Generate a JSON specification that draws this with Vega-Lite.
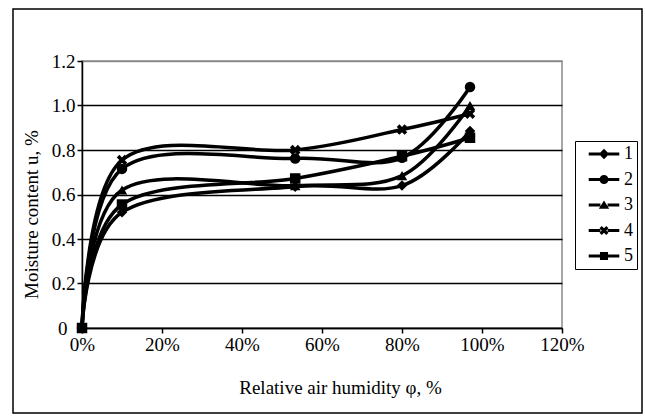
{
  "$schema": "https://vega.github.io/schema/vega-lite/v6.json",
  "autosize": "none",
  "width": 480,
  "height": 267,
  "padding": {"left": 82, "top": 61, "right": 83, "bottom": 88},
  "background": "white",
  "config": {
    "view": {"stroke": "#8a8a8a", "strokeWidth": 1.5},
    "font": "'Liberation Serif', 'Times New Roman', serif",
    "axis": {
      "labelFont": "'Liberation Serif', 'Times New Roman', serif",
      "titleFont": "'Liberation Serif', 'Times New Roman', serif",
      "labelFontSize": 19,
      "titleFontSize": 19,
      "titleFontWeight": "normal",
      "labelColor": "black",
      "titleColor": "black",
      "domainColor": "black",
      "domainWidth": 1.5,
      "tickColor": "black",
      "tickWidth": 1.5,
      "tickSize": 5,
      "labelFlush": false
    },
    "legend": {
      "labelFont": "'Liberation Serif', 'Times New Roman', serif",
      "labelFontSize": 18,
      "labelColor": "black"
    }
  },
  "data": {
    "values": [
      {"series": "1", "x": 0, "y": 0},
      {"series": "1", "x": 0.1, "y": 0.52},
      {"series": "1", "x": 0.533, "y": 0.635},
      {"series": "1", "x": 0.8, "y": 0.64},
      {"series": "1", "x": 0.97, "y": 0.885},
      {"series": "2", "x": 0, "y": 0},
      {"series": "2", "x": 0.1, "y": 0.715},
      {"series": "2", "x": 0.533, "y": 0.762},
      {"series": "2", "x": 0.8, "y": 0.765},
      {"series": "2", "x": 0.97, "y": 1.083},
      {"series": "3", "x": 0, "y": 0},
      {"series": "3", "x": 0.1, "y": 0.62},
      {"series": "3", "x": 0.533, "y": 0.64},
      {"series": "3", "x": 0.8, "y": 0.685},
      {"series": "3", "x": 0.97, "y": 1.0},
      {"series": "4", "x": 0, "y": 0},
      {"series": "4", "x": 0.1, "y": 0.755},
      {"series": "4", "x": 0.533, "y": 0.8},
      {"series": "4", "x": 0.8, "y": 0.892},
      {"series": "4", "x": 0.97, "y": 0.963},
      {"series": "5", "x": 0, "y": 0},
      {"series": "5", "x": 0.1, "y": 0.555},
      {"series": "5", "x": 0.533, "y": 0.672},
      {"series": "5", "x": 0.8, "y": 0.772},
      {"series": "5", "x": 0.97, "y": 0.855}
    ]
  },
  "layer": [
    {
      "data": {"values": [{"frame": "outer"}]},
      "mark": {"type": "rect", "fill": null, "stroke": "black", "strokeWidth": 1.5, "clip": false},
      "encoding": {
        "x": {"datum": -0.1725, "type": "quantitative", "scale": {"domain": [0, 1.2], "nice": false, "zero": false}},
        "x2": {"datum": 1.4},
        "y": {"datum": 1.434, "type": "quantitative", "scale": {"domain": [0, 1.2], "nice": false, "zero": false}},
        "y2": {"datum": -0.382}
      }
    },
    {
      "mark": {"type": "line", "interpolate": "cardinal", "color": "black", "strokeWidth": 3.5},
      "encoding": {
        "x": {
          "field": "x", "type": "quantitative",
          "scale": {"domain": [0, 1.2], "nice": false, "zero": false},
          "axis": {
            "values": [0, 0.2, 0.4, 0.6, 0.8, 1.0, 1.2],
            "format": ".0%",
            "grid": false,
            "labelPadding": 2,
            "title": "Relative air humidity φ, %",
            "titlePadding": 24,
            "titleX": 258
          }
        },
        "y": {
          "field": "y", "type": "quantitative",
          "scale": {"domain": [0, 1.2], "nice": false, "zero": false},
          "axis": {
            "values": [0, 0.2, 0.4, 0.6, 0.8, 1.0, 1.2],
            "labelExpr": "datum.value == 0 ? '0' : format(datum.value, '.1f')",
            "grid": true,
            "gridColor": {"condition": {"test": "datum.value > 1.1", "value": "#8a8a8a"}, "value": "black"},
            "gridWidth": 1.5,
            "labelPadding": {"condition": {"test": "datum.value < 0.1", "value": 10}, "value": 2},
            "title": "Moisture content u, %",
            "titlePadding": 10,
            "titleY": 153
          }
        },
        "detail": {"field": "series"},
        "order": {"field": "x"}
      }
    },
    {
      "mark": {"type": "point", "filled": true, "color": "black", "opacity": 1, "size": 110},
      "encoding": {
        "x": {"field": "x", "type": "quantitative"},
        "y": {"field": "y", "type": "quantitative"},
        "shape": {
          "field": "series", "type": "nominal",
          "scale": {
            "domain": ["1", "2", "3", "4", "5"],
            "range": ["diamond", "circle", "triangle-up", "M-1,-0.5L-0.5,-1L0,-0.5L0.5,-1L1,-0.5L0.5,0L1,0.5L0.5,1L0,0.5L-0.5,1L-1,0.5L-0.5,0Z", "square"]
          },
          "legend": null
        }
      }
    },
    {
      "mark": {"type": "point", "filled": true, "color": "black", "opacity": 0, "size": 81},
      "encoding": {
        "x": {"field": "x", "type": "quantitative"},
        "y": {"field": "y", "type": "quantitative"},
        "shape": {
          "field": "series", "type": "nominal",
          "scale": {
            "domain": ["1", "2", "3", "4", "5"],
            "range": [
              "M-3.4,-0.35H-0.9V0.35H-3.4ZM0.9,-0.35H3.4V0.35H0.9ZM0,-1.15L1.15,0L0,1.15L-1.15,0Z",
              "M-3.4,-0.35H-0.8V0.35H-3.4ZM0.8,-0.35H3.4V0.35H0.8ZM-1,0A1,1,0,1,1,1,0A1,1,0,1,1,-1,0Z",
              "M-3.4,-0.35H-0.8V0.35H-3.4ZM0.8,-0.35H3.4V0.35H0.8ZM0,-1L1.15,0.85L-1.15,0.85Z",
              "M-3.4,-0.35H-0.8V0.35H-3.4ZM0.8,-0.35H3.4V0.35H0.8ZM-1,-0.5L-0.5,-1L0,-0.5L0.5,-1L1,-0.5L0.5,0L1,0.5L0.5,1L0,0.5L-0.5,1L-1,0.5L-0.5,0Z",
              "M-3.4,-0.35H-0.8V0.35H-3.4ZM0.8,-0.35H3.4V0.35H0.8ZM-0.9,-0.9H0.9V0.9H-0.9Z"
            ]
          },
          "legend": {
            "title": null,
            "orient": "none",
            "legendX": 493,
            "legendY": 80,
            "symbolSize": 81,
            "symbolOpacity": 1,
            "symbolFillColor": "black",
            "symbolStrokeColor": "black",
            "symbolStrokeWidth": 0,
            "symbolOffset": 16,
            "labelOffset": 11,
            "labelExpr": "datum.label + '\u00a0\u00a0'",
            "rowPadding": 7.5,
            "padding": 4,
            "strokeColor": "black",
            "fillColor": "white",
            "encode": {"legend": {"update": {"strokeWidth": {"value": 1.5}}}}
          }
        }
      }
    }
  ],
  "resolve": {"scale": {"shape": "independent"}}
}
